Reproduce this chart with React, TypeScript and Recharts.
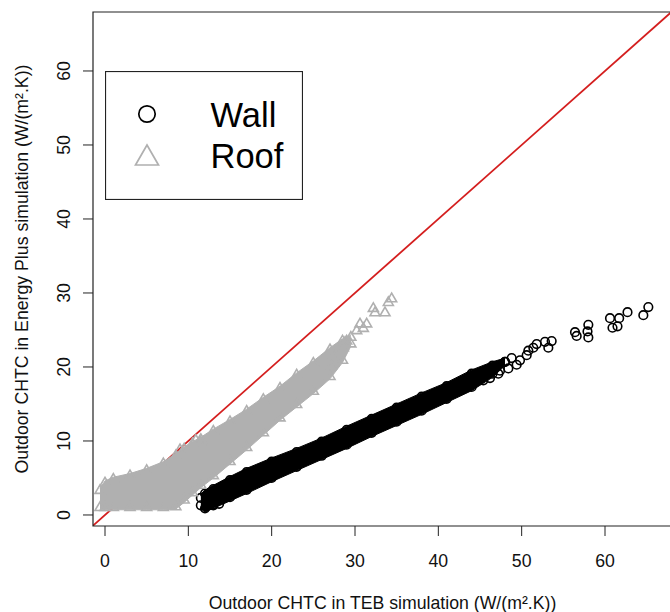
import React from 'react'
import {
  ComposedChart, Area, Scatter, XAxis, YAxis, ReferenceArea, Legend, Label
} from 'recharts'

const FONT = '"Liberation Sans", Arial, Helvetica, sans-serif'
const GRAY = '#b0b0b0'
const RED = '#d41e1e'

// axis ranges (R style, 4% padding around the data)
const X_MIN = -1.44, X_MAX = 68.04
const Y_MIN = -1.49, Y_MAX = 67.97

const xTicks = [0, 10, 20, 30, 40, 50, 60]
const yTicks = [0, 10, 20, 30, 40, 50, 60]

// 1:1 reference line, drawn corner to corner
const diagX = [X_MIN, Y_MAX]

// ── dense part of the Roof cloud (upper / lower envelope) ──
const roofBandX   = [-0.6, 0, 1, 3, 5, 7, 8.5, 9.5, 10.5, 11.5, 13, 15, 17, 19, 21, 23, 25, 27, 28.5, 29.5]
const roofBandTop = [3.6, 4.6, 5.1, 5.6, 6.3, 7.2, 8.3, 9.2, 9.9, 10.5, 11.6, 12.9, 14.3, 15.9, 17.4, 19.2, 20.8, 22.6, 23.8, 24.3]
const roofBandBot = [0.7, 0.7, 0.7, 0.7, 0.7, 0.7, 0.8, 1.7, 2.7, 3.7, 5.0, 6.9, 8.8, 10.8, 12.8, 14.6, 16.4, 18.4, 20.6, 22.8]

// ── dense part of the Wall cloud ──
const wallBandX   = [11.5, 12, 13, 15, 17, 20, 23, 26, 29, 32, 35, 38, 41, 44, 46.5, 48]
const wallBandTop = [2.8, 3.4, 4.0, 5.2, 6.3, 7.7, 9.0, 10.4, 12.0, 13.5, 15.0, 16.5, 17.9, 19.6, 20.7, 21.2]
const wallBandBot = [0.8, 0.4, 0.9, 1.9, 2.9, 4.5, 6.0, 7.5, 9.0, 10.6, 12.1, 13.6, 15.2, 16.8, 18.6, 20.2]

// ── loose points outside the dense bands ──
const wallPtX = [12.2, 13.0, 13.7, 45.4, 46.2, 47.2, 47.4, 48.4, 48.8, 49.4, 49.8, 50.6, 50.8, 51.4, 51.8, 52.8, 53.2, 53.6,
  56.4, 56.6, 58.0, 57.9, 58.0, 60.6, 60.9, 61.5, 61.7, 62.7, 64.6, 65.2]
const wallPtY = [1.2, 1.3, 1.5, 18.2, 18.5, 19.1, 19.5, 19.8, 21.2, 20.3, 20.9, 21.6, 22.2, 22.6, 23.1, 23.4, 22.6, 23.5,
  24.7, 24.2, 25.7, 24.8, 24.0, 26.6, 25.3, 25.5, 26.6, 27.4, 27.0, 28.1]

const roofPtX = [9.0, 10.9, 11.4, 27.2, 27.4, 28.6, 28.8, 29.0, 30.2, 30.6, 31.0, 31.4, 32.2, 32.4, 33.6, 34.0, 34.4]
const roofPtY = [8.9, 10.2, 10.0, 20.3, 21.6, 22.7, 23.4, 23.6, 25.0, 25.9, 25.3, 25.9, 28.0, 27.4, 27.4, 28.8, 29.3]

const diag = diagX.map(x => ({ x, y: x }))
const roofBand = roofBandX.map((x, i) => ({ x, range: [roofBandBot[i], roofBandTop[i]] }))
const wallBand = wallBandX.map((x, i) => ({ x, range: [wallBandBot[i], wallBandTop[i]] }))
// markers sitting on the envelope edges, so the band outline looks like overlapping symbols
const roofEdge = roofBandX.flatMap((x, i) => [{ x, y: roofBandTop[i] - 0.2 }, { x, y: roofBandBot[i] + 0.4 }])
const wallEdge = wallBandX.flatMap((x, i) => [{ x, y: wallBandTop[i] - 0.5 }, { x, y: wallBandBot[i] + 0.5 }])
const wallPts = wallPtX.map((x, i) => ({ x, y: wallPtY[i] }))
const roofPts = roofPtX.map((x, i) => ({ x, y: roofPtY[i] }))

const CircleDot = (p: any) => (
  <circle cx={p.cx} cy={p.cy} r={4.3} fill="none" stroke="#000" strokeWidth={1.6} />
)
const TriangleDot = (p: any) => (
  <polygon points={`${p.cx - 5},${p.cy + 3.6} ${p.cx + 5},${p.cy + 3.6} ${p.cx},${p.cy - 5}`}
    fill="none" stroke={GRAY} strokeWidth={1.6} />
)

const XTick = ({ x, y, payload }: any) => (
  <text x={x} y={y + 29} textAnchor="middle" fontSize={17.7} fontFamily={FONT} fill="#111">{payload.value}</text>
)
const YTick = ({ x, y, payload }: any) => (
  <text x={x - 11} y={y} transform={`rotate(-90, ${x - 11}, ${y})`} textAnchor="middle"
    fontSize={17.7} fontFamily={FONT} fill="#111">{payload.value}</text>
)

const LegendBox = () => (
  <svg width={198} height={129} style={{ display: 'block' }}>
    <rect x={0.5} y={0.5} width={197} height={128} fill="#fff" stroke="#222" strokeWidth={1.2} />
    <circle cx={42} cy={43} r={8.2} fill="none" stroke="#000" strokeWidth={1.7} />
    <polygon points="30.5,94 53.5,94 42,74" fill="none" stroke={GRAY} strokeWidth={1.7} />
    <text x={105.5} y={56} fontSize={34.5} fontFamily={FONT} fill="#000">Wall</text>
    <text x={105.5} y={97} fontSize={34.5} fontFamily={FONT} fill="#000">Roof</text>
  </svg>
)

export default function App() {
  return (
    <div style={{ position: 'absolute', left: 0, top: 0, width: 670, height: 612, overflow: 'hidden', background: '#fff', fontFamily: FONT }}>
      <ComposedChart width={672} height={612} margin={{ top: 12, right: 0, left: 0, bottom: 0 }}>
        <XAxis type="number" dataKey="x" domain={[X_MIN, X_MAX]} allowDataOverflow ticks={xTicks}
          height={86} axisLine={false} tickSize={10} tickLine={{ stroke: '#222' }} tick={<XTick />}>
          <Label value="Outdoor CHTC in TEB simulation (W/(m².K))" position="insideBottom" offset={3.5}
            fontSize={17.7} fontFamily={FONT} fill="#111" />
        </XAxis>
        <YAxis type="number" dataKey="y" domain={[Y_MIN, Y_MAX]} allowDataOverflow ticks={yTicks}
          width={93} axisLine={false} tickSize={10} tickLine={{ stroke: '#222' }} tick={<YTick />}>
          <Label value="Outdoor CHTC in Energy Plus simulation (W/(m².K))" position="insideLeft" angle={-90}
            offset={22.2} fontSize={17.7} fontFamily={FONT} fill="#111" style={{ textAnchor: 'middle' }} />
        </YAxis>
        {/* the 1:1 line goes under the point clouds, as in the original plot */}
        <Area data={diag} dataKey="y" type="linear" stroke={RED} strokeWidth={1.8} fill="none" fillOpacity={0}
          dot={false} activeDot={false} isAnimationActive={false} />
        <Area data={wallBand} dataKey="range" type="linear" stroke="#000" strokeWidth={1} fill="#000" fillOpacity={1}
          dot={false} activeDot={false} isAnimationActive={false} />
        <Area data={roofBand} dataKey="range" type="linear" stroke={GRAY} strokeWidth={1} fill={GRAY} fillOpacity={1}
          dot={false} activeDot={false} isAnimationActive={false} />
        <Scatter data={wallEdge} shape={CircleDot} isAnimationActive={false} />
        <Scatter data={wallPts} shape={CircleDot} isAnimationActive={false} />
        <Scatter data={roofEdge} shape={TriangleDot} isAnimationActive={false} />
        <Scatter data={roofPts} shape={TriangleDot} isAnimationActive={false} />
        <ReferenceArea x1={X_MIN} x2={X_MAX} y1={Y_MIN} y2={Y_MAX} fill="none" fillOpacity={0} stroke="#222" strokeWidth={1.2} />
        <Legend layout="vertical" align="center" verticalAlign="middle" width={198}
          wrapperStyle={{ left: 105, top: 71, width: 198, height: 129 }} content={<LegendBox />} />
      </ComposedChart>
    </div>
  )
}
